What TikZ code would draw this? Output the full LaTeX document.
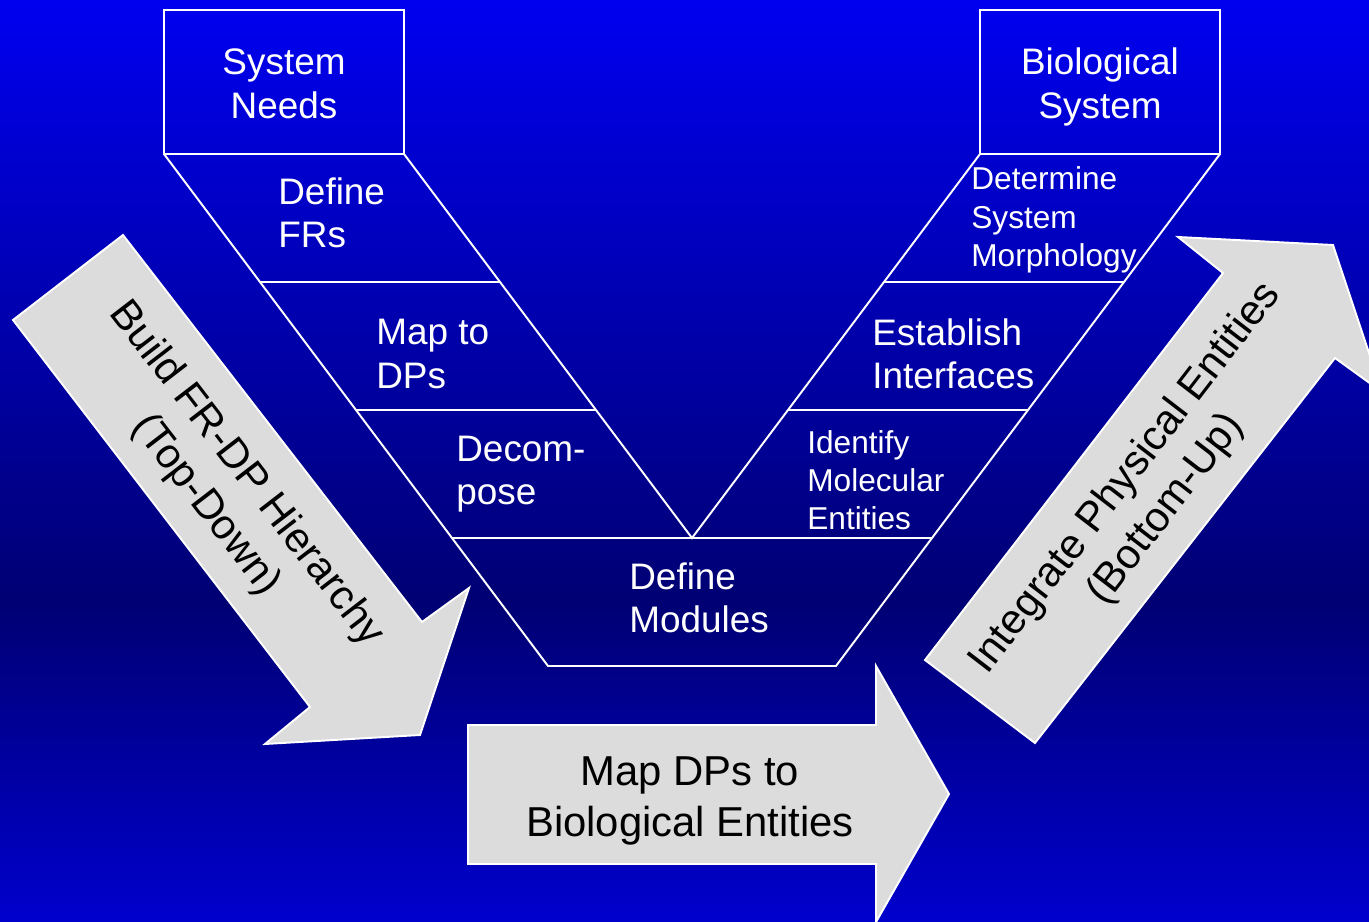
\documentclass[tikz,border=0pt]{standalone}
\usepackage{fontspec}
\setmainfont{Liberation Sans}
\usetikzlibrary{calc}
\definecolor{bgtop}{RGB}{0,0,240}
\definecolor{bgmid}{RGB}{0,0,115}
\definecolor{bgbot}{RGB}{0,0,205}
\definecolor{arrowfill}{RGB}{220,220,220}
\tikzset{
  vline/.style={draw=white, line width=1.1pt},
  boxlabel/.style={text=white, align=center, inner sep=0pt,
                   font=\fontsize{21}{24.7}\selectfont},
  steplabel/.style={text=white, anchor=west, align=left, inner sep=0pt,
                    font=\fontsize{21}{24.7}\selectfont},
  smalllabel/.style={steplabel, font=\fontsize{18}{21.8}\selectfont},
  bigarrow/.style={fill=arrowfill, draw=white, line width=1.1pt, line join=miter},
  arrowlabel/.style={text=black, align=center, inner sep=0pt,
                     font=\fontsize{23.8}{29}\selectfont},
}

\begin{document}
\begin{tikzpicture}[x=0.02cm, y=-0.02cm]
        \useasboundingbox (0,0) rectangle (1369,922);
        \clip (0,0) rectangle (1369,922);
        % background
        \shade[top color=bgtop, bottom color=bgmid] (0,0) rectangle (1369,601);
        \shade[top color=bgmid, bottom color=bgbot] (0,600) rectangle (1369,922);

        % top boxes
        \draw[vline] (164,10) rectangle (404,154);
        \draw[vline] (980,10) rectangle (1220,154);
        \node[boxlabel] (sysneeds) at (284,84) {System\\Needs};
        \node[boxlabel] (biosys) at (1100,87) {Biological\\System};

        % V outline
        \draw[vline] (164,154) -- (548,666) -- (836,666) -- (1220,154);
        \draw[vline] (404,154) -- (692,538) -- (980,154);
        \foreach \y in {282,410}{
          \draw[vline] ({164+0.75*(\y-154)},\y) -- ({404+0.75*(\y-154)},\y);
          \draw[vline] ({980-0.75*(\y-154)},\y) -- ({1220-0.75*(\y-154)},\y);
        }
        \draw[vline] (452,538) -- (932,538);

        % left arm steps
        \node[steplabel] (definefr) at (278,213) {Define\\FRs};
        \node[steplabel] (maptodp) at (376,354) {Map to\\DPs};
        \node[steplabel] (decomp) at (456,474) {Decom-\\pose};
        \node[steplabel] (definemod) at (629,598) {Define\\Modules};

        % right arm steps
        \node[smalllabel] (morph) at (971,220) {Determine\\System\\Morphology};
        \node[steplabel] (interf) at (872,354) {Establish\\Interfaces};
        \node[smalllabel] (molent) at (807,480) {Identify\\Molecular\\Entities};

        % block arrows
        \draw[bigarrow] (13,320) -- (123,235) -- (422,622) -- (469,588)
          -- (420,735) -- (265,744) -- (310,707) -- cycle;
        \draw[bigarrow] (925,660) -- (1223,273) -- (1178,237) -- (1333,245)
          -- (1382,392) -- (1335,358) -- (1035,743) -- cycle;
        \draw[bigarrow] (468,725) -- (876,725) -- (876,666) -- (949,794)
          -- (876,922) -- (876,864) -- (468,864) -- cycle;
        \node[arrowlabel, rotate=-52.4] (topdown) at (226,490)
          {Build FR-DP Hierarchy\\(Top-Down)};
        \node[arrowlabel, rotate=52.4] (bottomup) at (1146,494)
          {Integrate Physical Entities\\(Bottom-Up)};
        \node[arrowlabel] (mapbio) at (690,801) {Map DPs to\\Biological Entities};
\end{tikzpicture}
\end{document}
